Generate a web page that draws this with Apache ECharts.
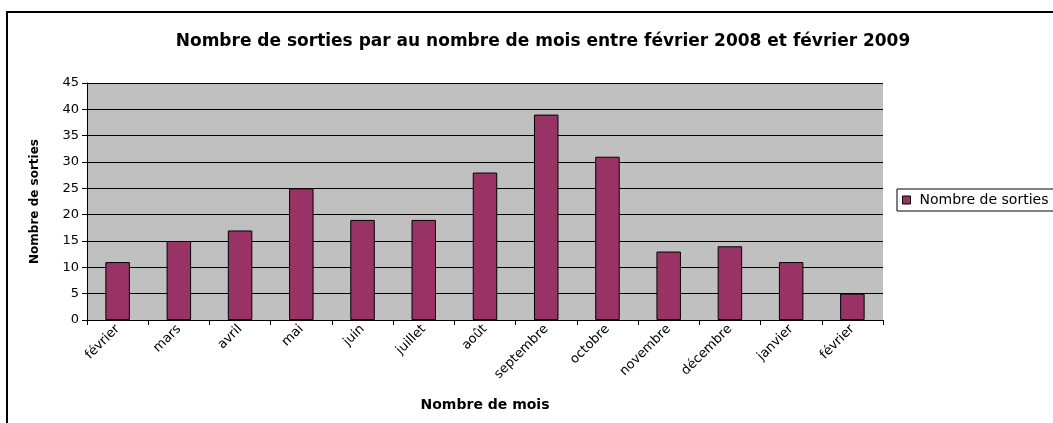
<!DOCTYPE html>
<html>
<head>
<meta charset="UTF-8">
<script src="https://cdn.jsdelivr.net/npm/echarts/dist/echarts.min.js"></script>
<style>
  html, body { margin: 0; padding: 0; background: #ffffff; }
  #chart { width: 1053px; height: 423px; }
</style>
</head>
<body>
<div id="chart"></div>
<script type="text/javascript">
// Data.
const months = ['février', 'mars', 'avril', 'mai', 'juin', 'juillet', 'août',
                'septembre', 'octobre', 'novembre', 'décembre', 'janvier', 'février'];
const sorties = [11, 15, 17, 25, 19, 19, 28, 39, 31, 13, 14, 11, 5];
const seriesName = 'Nombre de sorties';

const chart = echarts.init(document.getElementById('chart'));

// The original looks horizontally stretched, DejaVu is a wider sans.
const font = 'DejaVu Sans, Liberation Sans, Arial, sans-serif';

const option = {
    backgroundColor: '#ffffff',
    animation: false,
    textStyle: { fontFamily: font },
    title: {
        text: 'Nombre de sorties par au nombre de mois entre février 2008 et février 2009',
        left: 538,
        top: 28,
        textAlign: 'center',
        textStyle: { fontSize: 17, fontWeight: 'bold', color: '#000', fontFamily: font }
    },
    graphic: [
        {
            type: 'rect',
            shape: { x: 7, y: 12, width: 1100, height: 500 },
            style: { fill: 'none', stroke: '#000', lineWidth: 2 },
            silent: true
        }
    ],
    legend: {
        left: 897,
        top: 189,
        orient: 'vertical',
        itemWidth: 8,
        itemHeight: 8,
        itemGap: 0,
        icon: 'rect',
        padding: [4, 40, 4, 5],
        borderColor: '#000',
        borderWidth: 1,
        backgroundColor: '#fff',
        textStyle: { fontSize: 14, color: '#000', fontFamily: font, padding: [0, 0, 0, 4] },
        data: [{ name: seriesName, itemStyle: { borderColor: '#000', borderWidth: 1 } }]
    },
    grid: {
        left: 87,
        top: 83,
        right: 170,
        bottom: 103,
        show: true,
        backgroundColor: '#c0c0c0',
        borderWidth: 0
    },
    xAxis: {
        type: 'category',
        data: months,
        name: 'Nombre de mois',
        nameLocation: 'middle',
        nameGap: 78,
        nameTextStyle: { fontSize: 14, fontWeight: 'bold', color: '#000', fontFamily: font },
        axisLine: { show: true, lineStyle: { color: '#000', width: 1 } },
        axisTick: { show: true, length: 5, lineStyle: { color: '#000' } },
        axisLabel: {
            interval: 0,
            rotate: 45,
            fontSize: 13,
            color: '#000',
            margin: 7,
            fontFamily: font
        }
    },
    yAxis: {
        type: 'value',
        min: 0,
        max: 45,
        interval: 5,
        name: 'Nombre de sorties',
        nameLocation: 'middle',
        nameGap: 46,
        nameTextStyle: { fontSize: 12, fontWeight: 'bold', color: '#000', fontFamily: font },
        axisLine: { show: true, lineStyle: { color: '#000', width: 1 } },
        axisTick: { show: true, length: 5, lineStyle: { color: '#000' } },
        axisLabel: { fontSize: 13, color: '#000', margin: 8, fontFamily: font },
        splitLine: { show: true, lineStyle: { color: '#000', width: 1 } }
    },
    series: [
        {
            name: seriesName,
            type: 'bar',
            data: sorties,
            barWidth: '40%',
            itemStyle: { color: '#993366', borderColor: '#000', borderWidth: 1 }
        }
    ]
};

chart.setOption(option);
</script>
</body>
</html>
